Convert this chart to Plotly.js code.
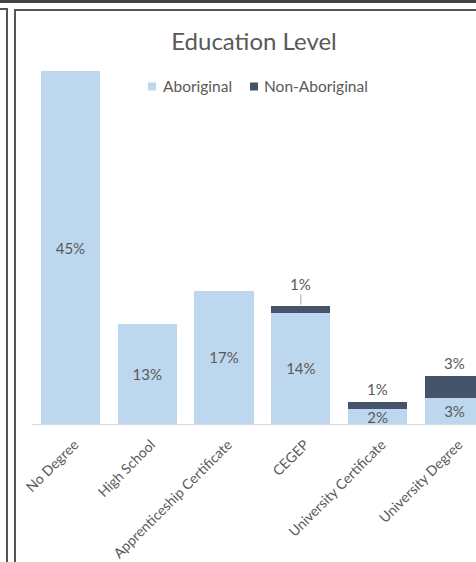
<!DOCTYPE html>
<html>
<head>
<meta charset="utf-8">
<script src="https://cdn.plot.ly/plotly-3.0.1.min.js"></script>
<style>
  html, body { margin: 0; padding: 0; width: 476px; height: 562px; overflow: hidden; background: #fff; }
  #chart { position: absolute; left: 0; top: 0; width: 476px; height: 562px; }
  .frame { position: absolute; background: #555; pointer-events: none; }
</style>
</head>
<body>
<div id="chart"></div>
<div class="frame" style="left:0;top:0;width:476px;height:3px;background:#444;"></div>
<div class="frame" style="left:0;top:8px;width:8px;height:2px;"></div>
<div class="frame" style="left:6px;top:8px;width:2px;height:554px;"></div>
<div class="frame" style="left:14px;top:9px;width:462px;height:2px;"></div>
<div class="frame" style="left:14px;top:9px;width:2px;height:553px;"></div>
<script>
const categories = ["No Degree", "High School", "Apprenticeship Certificate", "CEGEP", "University Certificate", "University Degree"];
const aboriginal = [45, 12.8, 17, 14.2, 1.9, 3.3];
const nonAboriginal = [0, 0, 0, 0.9, 0.9, 2.8];
const seriesNames = ["Aboriginal", "Non-Aboriginal"];
const seriesColors = ["#BDD7EE", "#44546A"];

const FONT = "Lato, 'Open Sans', sans-serif";
const GREY = "#595959";
const W = 476, H = 562;
const M = { l: 32, r: 0, t: 32, b: 138 };
const plotW = W - M.l - M.r, plotH = H - M.t - M.b;
// pixel -> paper helpers (for title/legend placement only)
const px = x => (x - M.l) / plotW;
const py = y => (H - M.b - y) / plotH;

const traces = [
  {
    type: "bar", name: seriesNames[0], x: categories, y: aboriginal,
    marker: { color: seriesColors[0] },
    texttemplate: "%{y:.0f}%", textposition: "inside", insidetextanchor: "middle",
    textangle: 0, constraintext: "none", cliponaxis: false,
    textfont: { family: FONT, size: 15, color: GREY },
    hoverinfo: "skip", showlegend: false
  },
  {
    type: "bar", name: seriesNames[1], x: categories, y: nonAboriginal,
    marker: { color: seriesColors[1] },
    textposition: "none",
    hoverinfo: "skip", showlegend: false
  }
];

const annotations = [];
const shapes = [];
categories.forEach((c, i) => {
  if (!nonAboriginal[i]) return;
  const total = aboriginal[i] + nonAboriginal[i];
  const txt = Math.round(nonAboriginal[i]) + "%";
  if (i === 3) {
    annotations.push({
      x: c, y: total, xref: "x", yref: "y", text: txt,
      showarrow: true, arrowhead: 0, arrowwidth: 1, arrowcolor: "#A6A6A6",
      ax: 0, ay: -22, standoff: 1,
      font: { family: FONT, size: 15, color: GREY }
    });
  } else {
    annotations.push({
      x: c, y: total, xref: "x", yref: "y", text: txt,
      showarrow: false, yanchor: "middle", yshift: 13,
      font: { family: FONT, size: 15, color: GREY }
    });
  }
});

// custom legend (Excel style: small square + label)
const legendItems = [
  { name: seriesNames[0], color: seriesColors[0], sq: 148, tx: 161 },
  { name: seriesNames[1], color: seriesColors[1], sq: 250, tx: 262 }
];
legendItems.forEach(it => {
  shapes.push({
    type: "rect", xref: "paper", yref: "paper",
    x0: px(it.sq), x1: px(it.sq + 8), y0: py(90.5), y1: py(82.5),
    fillcolor: it.color, line: { width: 0 }
  });
  annotations.push({
    xref: "paper", yref: "paper", x: px(it.tx), y: py(86),
    xanchor: "left", yanchor: "middle", showarrow: false, text: it.name,
    font: { family: FONT, size: 15.5, color: GREY }
  });
});

const layout = {
  width: W, height: H,
  margin: M,
  paper_bgcolor: "#fff", plot_bgcolor: "rgba(0,0,0,0)",
  barmode: "stack", bargap: 0.23,
  font: { family: FONT, color: GREY },
  title: {
    text: "Education Level",
    x: 254 / W, xanchor: "center", xref: "container",
    y: 1 - 42 / H, yanchor: "middle", yref: "container",
    font: { family: FONT, size: 24, color: GREY }
  },
  showlegend: false,
  xaxis: {
    type: "category", range: [-0.5, 5.28], fixedrange: true,
    showline: true, linecolor: "#D9D9D9", linewidth: 1,
    ticks: "outside", ticklen: 6, tickcolor: "rgba(0,0,0,0)",
    ticklabelshift: 4,
    tickangle: -45, showgrid: false, zeroline: false,
    tickfont: { family: FONT, size: 14, color: GREY }
  },
  yaxis: {
    range: [0, 50], visible: false, showgrid: false, zeroline: false, fixedrange: true
  },
  annotations: annotations,
  shapes: shapes
};

Plotly.newPlot("chart", traces, layout, { displayModeBar: false, staticPlot: true });
</script>
</body>
</html>
